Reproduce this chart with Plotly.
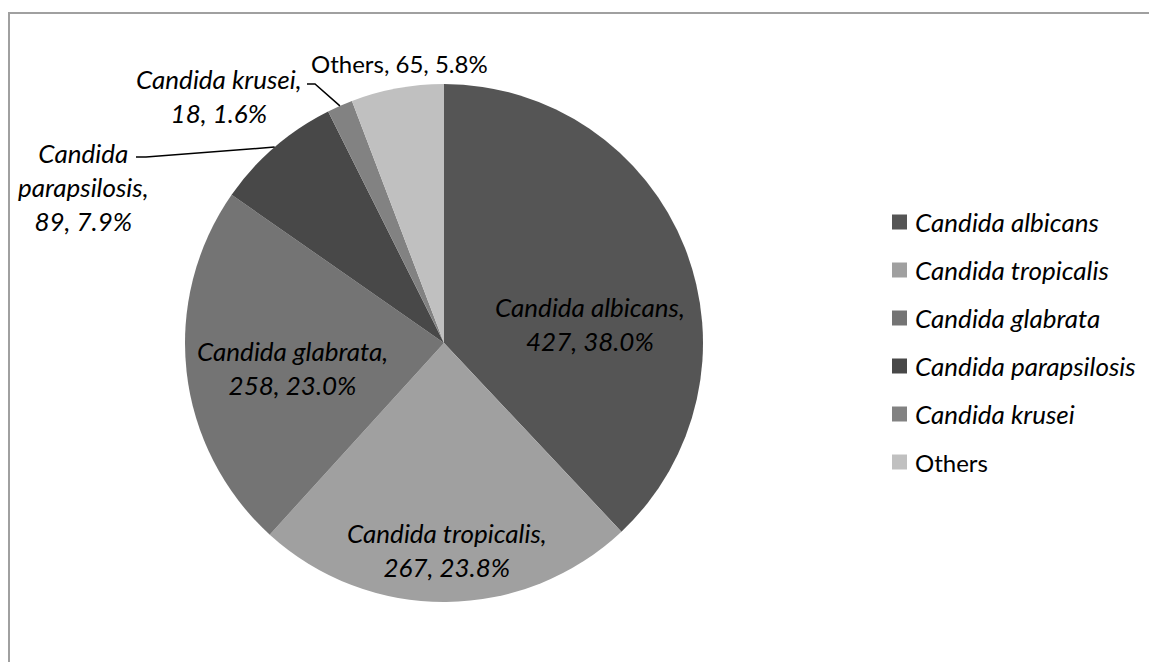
import math
import plotly.graph_objects as go

# Species isolated and their counts
species = [
    "Candida albicans",
    "Candida tropicalis",
    "Candida glabrata",
    "Candida parapsilosis",
    "Candida krusei",
    "Others",
]
counts = [427, 267, 258, 89, 18, 65]
italic_name = [True, True, True, True, True, False]
colors = ["#555555", "#a0a0a0", "#747474", "#484848", "#828282", "#c0c0c0"]

W, H = 1149, 662
FONT = "Lato"
FS_ITALIC = 26
FS_UPRIGHT = 24

# pie geometry in pixels
CX, CY, R = 444, 343, 259


def fx(x):
    return x / W


def fy(y):
    return 1 - y / H


total = sum(counts)
pcts = [c / total * 100 for c in counts]


def label_text(i, name_lines=None, sep="<br>"):
    name = name_lines if name_lines else species[i]
    body = f"{name},{sep}{counts[i]}, {pcts[i]:.1f}%"
    return f"<i>{body}</i>" if italic_name[i] else body


def font_for(i):
    size = FS_ITALIC if italic_name[i] else FS_UPRIGHT
    return dict(family=FONT, size=size, color="#000000")


def edge_point(i):
    """Point on the rim at the middle of slice i (clockwise from 12 o'clock)."""
    start = sum(counts[:i]) / total
    mid = (start + counts[i] / total / 2) * 2 * math.pi
    return CX + R * math.sin(mid), CY - R * math.cos(mid)


fig = go.Figure()
fig.add_trace(
    go.Pie(
        labels=species,
        values=counts,
        sort=False,
        direction="clockwise",
        rotation=0,
        marker=dict(colors=colors, line=dict(width=0)),
        textinfo="none",
        hoverinfo="label+value+percent",
        showlegend=False,
        domain=dict(x=[fx(CX - R), fx(CX + R)], y=[fy(CY + R), fy(CY - R)]),
    )
)

annotations = []
shapes = []

# slice labels placed by (center x, center y) in pixels
label_pos = {
    0: (590, 324),
    1: (447, 550),
    2: (292, 368),
    3: (83, 187),
    4: (219, 96),
    5: (399, 63),
}
for i, (x, y) in label_pos.items():
    if i == 5:
        txt = label_text(i, sep=" ")
    elif i == 3:
        txt = label_text(i, name_lines="Candida<br>parapsilosis")
    else:
        txt = label_text(i)
    annotations.append(
        dict(
            x=fx(x), y=fy(y), xref="paper", yref="paper",
            text=txt, showarrow=False, align="center",
            xanchor="center", yanchor="middle",
            font=font_for(i),
        )
    )

# leader lines from outside labels to their slices
leaders = {3: [(136, 157), (146, 157)], 4: [(307, 84), (315, 84)]}
for i, pts in leaders.items():
    ex, ey = edge_point(i)
    pts = pts + [(ex, ey)]
    path = "M " + " L ".join(f"{fx(x)},{fy(y)}" for x, y in pts)
    shapes.append(
        dict(type="path", path=path, xref="paper", yref="paper",
             line=dict(color="#000000", width=1.5))
    )

# legend
LX, LY0, LDY, SQ = 892, 222, 48, 15
for i, name in enumerate(species):
    y = LY0 + i * LDY
    shapes.append(
        dict(type="rect", xref="paper", yref="paper",
             x0=fx(LX), x1=fx(LX + SQ), y0=fy(y + SQ / 2), y1=fy(y - SQ / 2),
             fillcolor=colors[i], line=dict(width=0))
    )
    annotations.append(
        dict(
            x=fx(LX + SQ + 6), y=fy(y), xref="paper", yref="paper",
            text=f"<i>{name}</i>" if italic_name[i] else name,
            showarrow=False, xanchor="left", yanchor="middle",
            font=font_for(i),
        )
    )

# chart area frame
shapes.append(
    dict(type="rect", xref="paper", yref="paper",
         x0=fx(9), y0=fy(13), x1=fx(W + 20), y1=fy(H + 20),
         line=dict(color="#a0a0a0", width=2), fillcolor="rgba(0,0,0,0)")
)

fig.update_layout(
    width=W, height=H,
    margin=dict(l=0, r=0, t=0, b=0),
    paper_bgcolor="#ffffff",
    plot_bgcolor="#ffffff",
    showlegend=False,
    annotations=annotations,
    shapes=shapes,
    font=dict(family=FONT),
)

fig.write_html("out.html")
